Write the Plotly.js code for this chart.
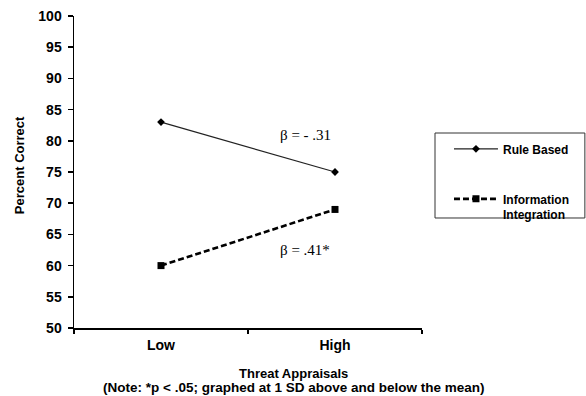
<!DOCTYPE html>
<html>
<head>
<meta charset="utf-8">
<script src="https://cdn.plot.ly/plotly-3.0.1.min.js"></script>
<style>html,body{margin:0;padding:0;background:#fff;}#chart{width:586px;height:396px;}</style>
</head>
<body>
<div id="chart"></div>
<script>
var categories = ["Low", "High"];
var ruleBased = [83, 75];
var infoIntegration = [60, 69];
var seriesNames = ["Rule Based", "Information<br>Integration"];
var yTicks = [50, 55, 60, 65, 70, 75, 80, 85, 90, 95, 100];
var betaLabels = ["β = - .31", "β = .41*"];

var sans = "Arial, 'Liberation Sans', sans-serif";
var serif = "'Times New Roman', 'Liberation Serif', serif";

var traces = [
  {
    x: categories, y: ruleBased, name: seriesNames[0], type: "scatter", mode: "lines+markers",
    line: {color: "#222", width: 1.2},
    marker: {symbol: "diamond", size: 6, color: "#000"},
    legendgroup: "a"
  },
  {
    x: categories, y: infoIntegration, name: seriesNames[1], type: "scatter", mode: "lines+markers",
    line: {color: "#000", width: 2.6, dash: "6px,3px"},
    marker: {symbol: "square", size: 7, color: "#000"},
    legendgroup: "b"
  }
];

var layout = {
  width: 586, height: 396,
  margin: {l: 74, r: 164, t: 16, b: 68},
  paper_bgcolor: "#fff", plot_bgcolor: "#fff",
  showlegend: true,
  legend: {
    x: 1.0775, y: 0.62, xanchor: "left", yanchor: "top",
    borderwidth: 0, bgcolor: "rgba(0,0,0,0)",
    font: {family: sans, size: 12, color: "#000", weight: "bold"},
    tracegroupgap: 31, itemwidth: 44, valign: "top"
  },
  xaxis: {
    type: "category", range: [-0.5, 1.5], tickson: "boundaries",
    showline: true, linecolor: "#000", linewidth: 1.5,
    ticks: "outside", ticklen: 4, tickcolor: "#000", tickwidth: 1.5,
    showgrid: false, zeroline: false, ticklabelstandoff: 4,
    tickfont: {family: sans, size: 14, color: "#000", weight: "bold"}
  },
  yaxis: {
    range: [50, 100], tickvals: yTicks,
    showline: true, linecolor: "#000", linewidth: 1.5,
    ticks: "outside", ticklen: 5, tickcolor: "#000", tickwidth: 1.5,
    showgrid: false, zeroline: false, ticklabelstandoff: 3,
    tickfont: {family: sans, size: 14, color: "#000", weight: "bold"}
  },
  shapes: [
    {type: "rect", xref: "paper", yref: "paper", x0: 1.0374, x1: 1.468, y0: 0.3526, y1: 0.625,
     line: {color: "#333", width: 1}, fillcolor: "rgba(0,0,0,0)"}
  ],
  annotations: [
    {x: 0.83, y: 80.9, xref: "x", yref: "y", text: betaLabels[0], showarrow: false,
     xanchor: "center", yanchor: "middle", font: {family: serif, size: 15, color: "#000"}},
    {x: 0.83, y: 62.5, xref: "x", yref: "y", text: betaLabels[1], showarrow: false,
     xanchor: "center", yanchor: "middle", font: {family: serif, size: 15, color: "#000"}},
    {x: 0.632, y: -0.145, xref: "paper", yref: "paper", text: "Threat Appraisals", showarrow: false,
     xanchor: "center", yanchor: "middle", font: {family: sans, size: 13, color: "#000", weight: "bold"}},
    {x: 0.632, y: -0.19, xref: "paper", yref: "paper", text: "(Note: *p < .05; graphed at 1 SD above and below the mean)", showarrow: false,
     xanchor: "center", yanchor: "middle", font: {family: sans, size: 13.5, color: "#000", weight: "bold"}},
    {x: -0.158, y: 0.522, xref: "paper", yref: "paper", text: "Percent Correct", showarrow: false, textangle: -90,
     xanchor: "center", yanchor: "middle", font: {family: sans, size: 13, color: "#000", weight: "bold"}}
  ]
};

Plotly.newPlot("chart", traces, layout, {displayModeBar: false, staticPlot: true});
</script>
</body>
</html>
